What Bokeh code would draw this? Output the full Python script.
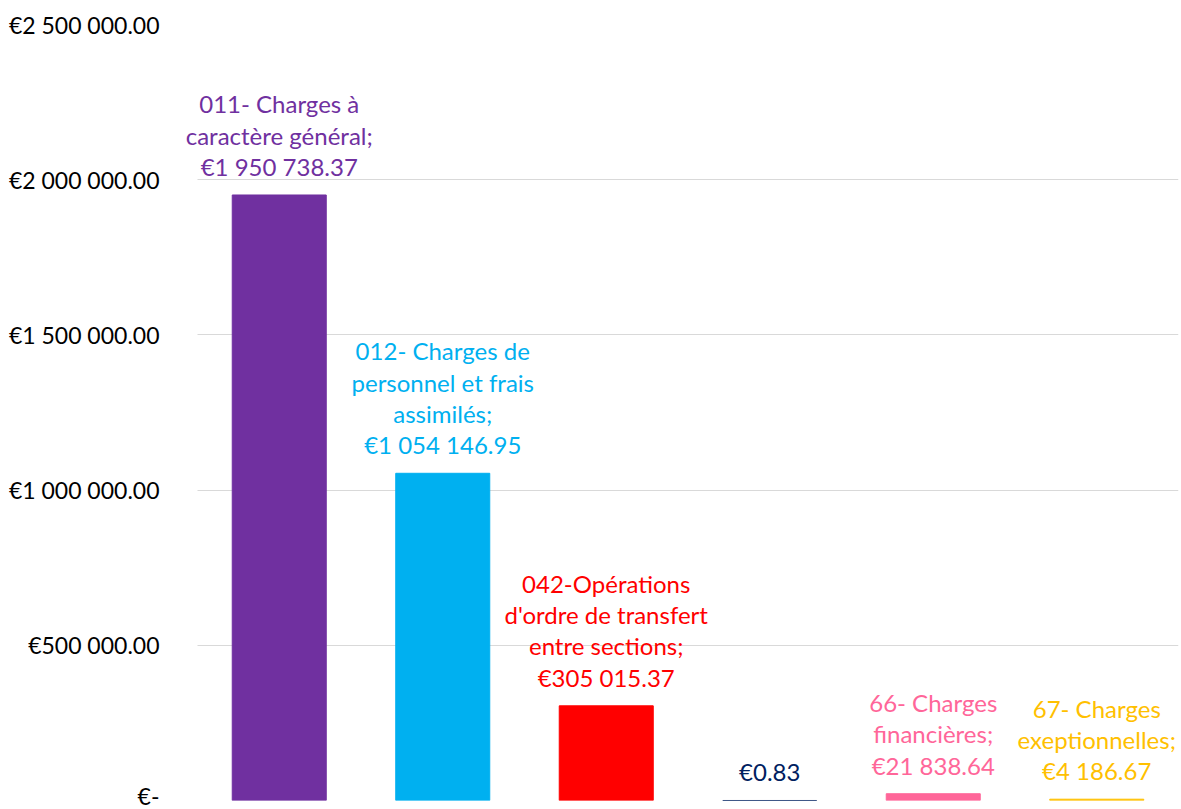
from bokeh.plotting import figure
from bokeh.models import ColumnDataSource, FixedTicker, Range1d
from bokeh.core.properties import value
from bokeh.embed import file_html
from bokeh.resources import INLINE

categories = ["011- Charges à caractère général",
              "012- Charges de personnel et frais assimilés",
              "042-Opérations d'ordre de transfert entre sections",
              "65- Autres charges de gestion courante",
              "66- Charges financières",
              "67- Charges exeptionnelles"]
label_names = ["011- Charges à\ncaractère général;",
               "012- Charges de\npersonnel et frais\nassimilés;",
               "042-Opérations\nd'ordre de transfert\nentre sections;",
               "",
               "66- Charges\nfinancières;",
               "67- Charges\nexeptionnelles;"]
values = [1950738.37, 1054146.95, 305015.37, 0.83, 21838.64, 4186.67]
colors = ["#7030A0", "#00B0F0", "#FF0000", "#002060", "#FF6699", "#FFC000"]
y_ticks = [0, 500000, 1000000, 1500000, 2000000, 2500000]
y_tick_labels = ["€-", "€500 000.00", "€1 000 000.00", "€1 500 000.00",
                 "€2 000 000.00", "€2 500 000.00"]


def fmt(v):
    return "€" + f"{v:,.2f}".replace(",", " ")


labels = [(n + "\n" if n else "") + fmt(v) for n, v in zip(label_names, values)]
xpos = list(range(1, len(categories) + 1))

src = ColumnDataSource(dict(x=xpos, y=values, c=colors, t=labels, name=categories))

FONT = "Lato"
CAT_PX = (1178 - 197) / len(categories)
EXTRA = 17  # px of frame left of the first category slot (room for labels)
x_start = 0.5 - EXTRA / CAT_PX
x_end = len(categories) + 0.5

p = figure(width=1181, height=809, output_backend="svg", toolbar_location=None,
           x_range=Range1d(x_start, x_end),
           y_range=Range1d(0, 2500000),
           min_border_left=197 - EXTRA, min_border_right=3, min_border_top=24,
           min_border_bottom=9)
p.outline_line_color = None
p.background_fill_color = "white"
p.border_fill_color = "white"

p.xaxis.visible = False
p.xgrid.visible = False
p.ygrid.grid_line_color = "#D9D9D9"
p.ygrid.grid_line_width = 1
p.ygrid.cross_bounds = (0.5, x_end)

p.vbar(x="x", top="y", width=0.575, source=src, fill_color="c", line_color="c",
       line_width=1)
p.text(x="x", y="y", text="t", source=src, text_color="c", text_align="center",
       text_baseline="bottom", y_offset=-14, text_font=value(FONT),
       text_font_size="24px", text_line_height=1.08)

yax = p.yaxis[0]
yax.ticker = FixedTicker(ticks=y_ticks)
yax.major_label_overrides = {t: l for t, l in zip(y_ticks, y_tick_labels)}
yax.axis_line_color = None
yax.major_tick_line_color = None
yax.minor_tick_line_color = None
yax.major_label_standoff = 32 - EXTRA
yax.major_label_text_font = FONT
yax.major_label_text_font_size = "23px"
yax.major_label_text_color = "black"

open("out.html", "w").write(file_html(p, INLINE))
